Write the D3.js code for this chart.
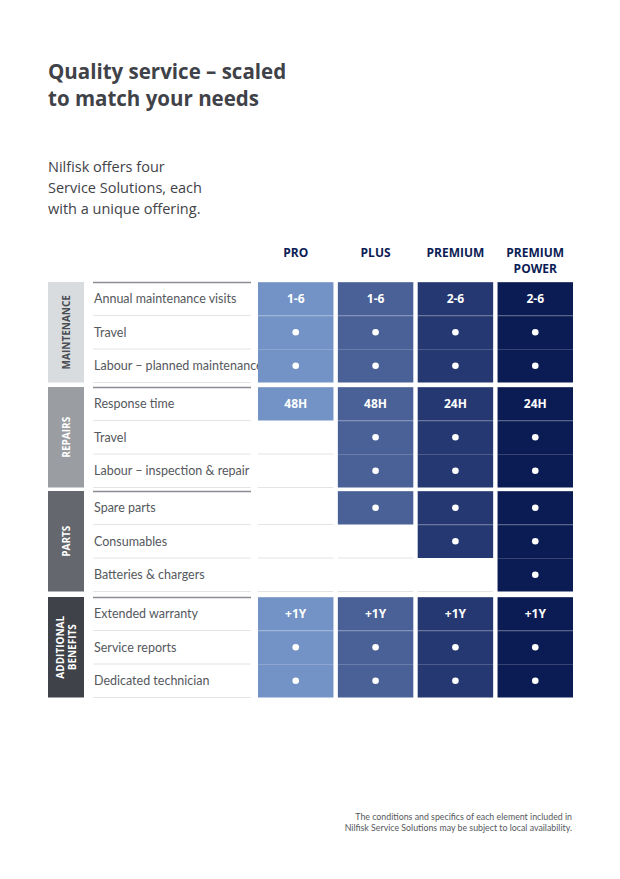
<!DOCTYPE html><html><head><meta charset="utf-8">
<script src="https://cdn.jsdelivr.net/npm/d3@7"></script>
<style>body{margin:0;background:#fff}svg{font-family:"Open Sans",sans-serif}</style></head><body>
<script>
const plans = ["PRO","PLUS","PREMIUM","PREMIUM POWER"];
const planColors = ["#7393c6","#4a6198","#253872","#0b1c55"];
const groups = ["MAINTENANCE","REPAIRS","PARTS","ADDITIONAL BENEFITS"];
const groupColors = ["#d9dcde","#9a9da2","#64676d","#3f4248"];
const groupText = ["#4a4d52","#fff","#fff","#fff"];
const features = [
 ["Annual maintenance visits","Travel","Labour – planned maintenance"],
 ["Response time","Travel","Labour – inspection & repair"],
 ["Spare parts","Consumables","Batteries & chargers"],
 ["Extended warranty","Service reports","Dedicated technician"]];
// values per group, per row, per plan ("●" = included, "" = not included)
const values = [
 [["1-6","1-6","2-6","2-6"],["●","●","●","●"],["●","●","●","●"]],
 [["48H","48H","24H","24H"],["","●","●","●"],["","●","●","●"]],
 [["","●","●","●"],["","","●","●"],["","","","●"]],
 [["+1Y","+1Y","+1Y","+1Y"],["●","●","●","●"],["●","●","●","●"]]];
const groupTops = [282,387,491,597];

const svg = d3.select("body").append("svg").attr("width",620).attr("height",879);
svg.append("text").attr("x",48).attr("y",79).attr("font-size",20.5).attr("font-weight",700).attr("fill","#3f4248").text("Quality service – scaled");
svg.append("text").attr("x",48).attr("y",106).attr("font-size",20.5).attr("font-weight",700).attr("fill","#3f4248").text("to match your needs");
["Nilfisk offers four","Service Solutions, each","with a unique offering."].forEach((t,i)=>
 svg.append("text").attr("x",48).attr("y",172+i*21).attr("font-size",14.5).attr("fill","#3f4248").text(t));

const x = d3.scaleBand().domain(plans).range([258,573]).paddingInner(0.055);
const rowH = 33.5;
plans.forEach((p,i)=>{
  const parts = p==="PREMIUM POWER"?["PREMIUM","POWER"]:[p];
  parts.forEach((t,j)=>svg.append("text").attr("x",x(p)+x.bandwidth()/2).attr("y",257+j*15.5)
   .attr("text-anchor","middle").attr("font-size",12).attr("font-weight",700).attr("fill","#0b1c55").text(t));
});
groups.forEach((g,gi)=>{
  const top = groupTops[gi], h = rowH*3;
  svg.append("rect").attr("x",48).attr("y",top).attr("width",36).attr("height",h).attr("fill",groupColors[gi]);
  const lines = g==="ADDITIONAL BENEFITS"?["ADDITIONAL","BENEFITS"]:[g];
  const cx = 66, cy = top+h/2;
  lines.forEach((t,j)=>svg.append("text").attr("transform",`translate(${cx+(j-(lines.length-1)/2)*12+4},${cy}) rotate(-90)`)
    .attr("text-anchor","middle").attr("font-size",10).attr("font-weight",700).attr("fill",groupText[gi]).text(t));
  svg.append("line").attr("x1",93).attr("x2",251).attr("y1",top+0.5).attr("y2",top+0.5).attr("stroke","#8a8d92").attr("stroke-width",1.5);
  features[gi].forEach((f,ri)=>{
    const y = top+ri*rowH;
    svg.append("line").attr("x1",93).attr("x2",251).attr("y1",y+rowH).attr("y2",y+rowH).attr("stroke","#e3e4e6");
    svg.append("text").attr("x",94).attr("y",y+rowH/2+4.5).attr("font-size",12.5).attr("font-family","Lato").attr("fill","#55585d").text(f);
    plans.forEach((p,pi)=>{
      const v = values[gi][ri][pi];
      if(v===""){
        svg.append("line").attr("x1",x(p)).attr("x2",x(p)+x.bandwidth()).attr("y1",y+rowH).attr("y2",y+rowH).attr("stroke","#e3e4e6");
        return;
      }
      svg.append("rect").attr("x",x(p)).attr("y",y).attr("width",x.bandwidth()).attr("height",rowH).attr("fill",planColors[pi]);
      svg.append("line").attr("x1",x(p)).attr("x2",x(p)+x.bandwidth()).attr("y1",y+0.5).attr("y2",y+0.5).attr("stroke","rgba(255,255,255,0.18)");
      if(v==="●") svg.append("circle").attr("cx",x(p)+x.bandwidth()/2).attr("cy",y+rowH/2).attr("r",3.3).attr("fill","#fff");
      else svg.append("text").attr("x",x(p)+x.bandwidth()/2).attr("y",y+rowH/2+4.5).attr("text-anchor","middle")
        .attr("font-size",12).attr("font-weight",700).attr("fill","#fff").text(v);
    });
  });
});
["The conditions and specifics of each element included in","Nilfisk Service Solutions may be subject to local availability."].forEach((t,i)=>
 svg.append("text").attr("x",572).attr("y",820+i*11).attr("text-anchor","end").attr("font-size",8.8).attr("font-family","Lato").attr("fill","#55585d").text(t));
</script></body></html>
